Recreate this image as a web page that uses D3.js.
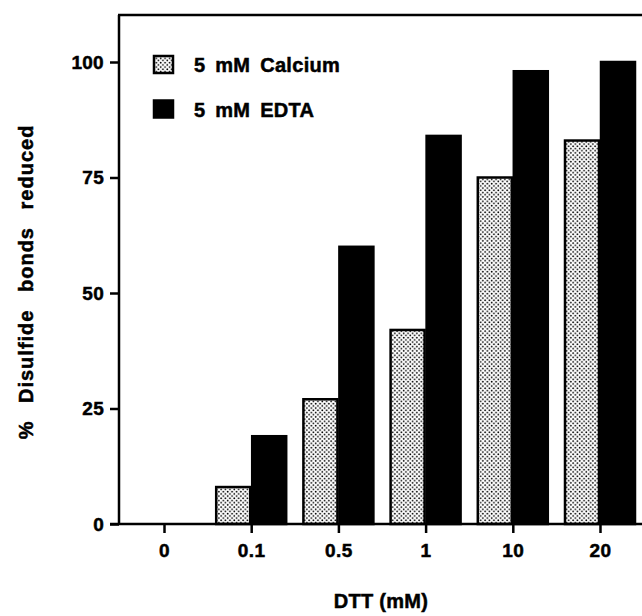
<!DOCTYPE html>
<html>
<head>
<meta charset="utf-8">
<script src="https://cdn.jsdelivr.net/npm/d3@7"></script>
<style>
  body { margin: 0; background: #fff; }
  svg { display: block; font-family: "Liberation Sans", Arial, Helvetica, sans-serif; font-weight: bold; }
  svg text { stroke: #000; stroke-width: 0.5px; }
</style>
</head>
<body>
<div id="app"></div>
<script>
const w = 642;
const h = 616;

// data
const doses = ['0', '0.1', '0.5', '1', '10', '20'];
const seriesNames = ['5 mM Calcium', '5 mM EDTA'];
const calcium = [0, 8, 27, 42, 75, 83];
const edta = [0, 19, 60, 84, 98, 100];
const yTicks = [0, 25, 50, 75, 100];

const svg = d3.select('#app')
  .append('svg')
  .attr('width', w)
  .attr('height', h);

// dotted fill
const defs = svg.append('defs');
const pat = defs.append('pattern')
  .attr('id', 'dots')
  .attr('patternUnits', 'userSpaceOnUse')
  .attr('width', 4.4)
  .attr('height', 4.4);
pat.append('rect').attr('width', 4.4).attr('height', 4.4).attr('fill', '#fff');
pat.append('circle').attr('cx', 1.1).attr('cy', 1.1).attr('r', 0.9).attr('fill', '#000');
pat.append('circle').attr('cx', 3.3).attr('cy', 3.3).attr('r', 0.9).attr('fill', '#000');

const x = d3.scalePoint().domain(doses).range([164, 600]);
const sub = d3.scaleBand().domain(seriesNames).range([-36, 36]);
const y = d3.scaleLinear().domain([0, 100]).range([524, 62]);

const fills = ['url(#dots)', '#000'];
const values = [calcium, edta];

//////////BARS//////////

seriesNames.forEach((name, s) => {
  svg.append('g')
    .selectAll('rect')
    .data(values[s].map((v, i) => ({ dose: doses[i], v: v })).filter(d => d.v > 0))
    .enter()
    .append('rect')
    .attr('x', d => x(d.dose) + sub(name) + 1)
    .attr('y', d => y(d.v))
    .attr('width', sub.bandwidth() - 2)
    .attr('height', d => y(0) - y(d.v))
    .attr('fill', fills[s])
    .attr('stroke', '#000')
    .attr('stroke-width', 2.5);
});

//////////AXES//////////

const yAxis = svg.append('g')
  .attr('transform', 'translate(119,0)')
  .call(d3.axisLeft(y).tickValues(yTicks).tickSize(9).tickPadding(6));
yAxis.select('.domain').remove();
yAxis.selectAll('line').attr('stroke', '#000').attr('stroke-width', 2.5);
yAxis.selectAll('text')
  .attr('fill', '#000')
  .style('font-size', '19px')
  .style('font-weight', 'bold')
  .style('letter-spacing', '0.3px')
  .style('font-family', '"Liberation Sans", Arial, sans-serif');

const xAxis = svg.append('g')
  .attr('transform', 'translate(0,' + y(0) + ')')
  .call(d3.axisBottom(x).tickSize(9).tickPadding(11));
xAxis.select('.domain').remove();
xAxis.selectAll('line').attr('stroke', '#000').attr('stroke-width', 2.5);
xAxis.selectAll('text')
  .attr('fill', '#000')
  .style('font-size', '19px')
  .style('font-weight', 'bold')
  .style('letter-spacing', '0.5px')
  .style('font-family', '"Liberation Sans", Arial, sans-serif');

// frame lines: left, top, bottom
svg.append('line').attr('x1', 119).attr('x2', 119).attr('y1', 15).attr('y2', y(0) + 1)
  .attr('stroke', '#000').attr('stroke-width', 2.5);
svg.append('line').attr('x1', 118).attr('x2', w).attr('y1', 15).attr('y2', 15)
  .attr('stroke', '#000').attr('stroke-width', 2.5);
svg.append('line').attr('x1', 110).attr('x2', w).attr('y1', y(0)).attr('y2', y(0))
  .attr('stroke', '#000').attr('stroke-width', 2.5);

//////////LABELS//////////

svg.append('text')
  .attr('transform', 'translate(33,282) rotate(-90)')
  .attr('text-anchor', 'middle')
  .style('font-size', '20px')
  .style('letter-spacing', '1px')
  .style('word-spacing', '11px')
  .text('% Disulfide bonds reduced');

svg.append('text')
  .attr('x', 381)
  .attr('y', 608)
  .attr('text-anchor', 'middle')
  .style('font-size', '20px')
  .style('letter-spacing', '0.3px')
  .text('DTT (mM)');

//////////LEGEND//////////

const legend = svg.append('g')
  .selectAll('g')
  .data(seriesNames)
  .enter()
  .append('g')
  .attr('transform', (d, i) => 'translate(153,' + (55 + i * 44.5) + ')');

legend.append('rect')
  .attr('x', 1)
  .attr('y', 1)
  .attr('width', 19)
  .attr('height', 17)
  .attr('fill', (d, i) => fills[i])
  .attr('stroke', '#000')
  .attr('stroke-width', 2.5);

legend.append('text')
  .attr('x', 41)
  .attr('y', 17)
  .style('font-size', '20px')
  .style('letter-spacing', '0.3px')
  .style('word-spacing', '4px')
  .text(d => d);
</script>
</body>
</html>
